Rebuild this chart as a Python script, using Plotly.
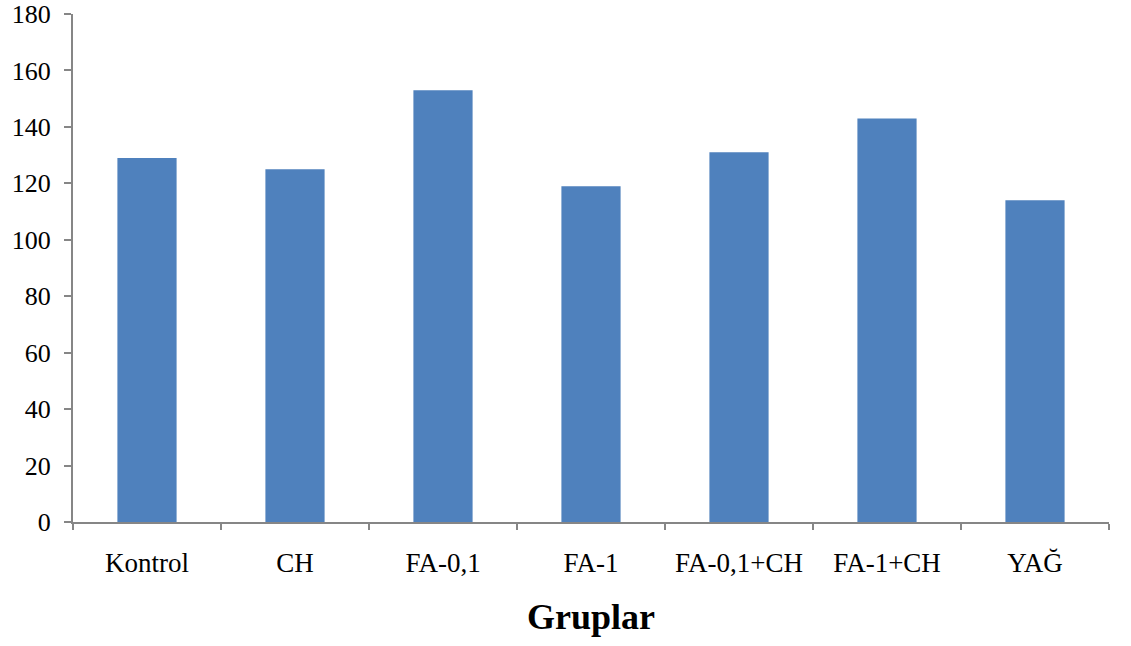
import plotly.graph_objects as go

groups = ["Kontrol", "CH", "FA-0,1", "FA-1", "FA-0,1+CH", "FA-1+CH", "YAĞ"]
values = [129, 125, 153, 119, 131, 143, 114]
y_ticks = [0, 20, 40, 60, 80, 100, 120, 140, 160, 180]

bar_color = "#4F81BD"
axis_color = "#868686"
serif = "Liberation Serif, Times New Roman, serif"

fig = go.Figure(
    go.Bar(
        x=groups,
        y=values,
        marker=dict(color=bar_color, line=dict(width=0)),
    )
)

fig.update_layout(
    width=1131,
    height=646,
    margin=dict(l=73, r=22, t=14, b=124, autoexpand=False),
    plot_bgcolor="white",
    paper_bgcolor="white",
    bargap=0.6,
    showlegend=False,
    font=dict(family=serif, color="black"),
)

fig.update_xaxes(
    title=dict(text="<b>Gruplar</b>", font=dict(size=36, family=serif), standoff=26),
    tickfont=dict(size=27, family=serif),
    showline=True,
    linecolor=axis_color,
    linewidth=2,
    ticks="outside",
    tickson="boundaries",
    ticklen=6,
    tickcolor=axis_color,
    tickwidth=2,
    showgrid=False,
    automargin=False,
    ticklabelstandoff=16,
)

fig.update_yaxes(
    range=[0, 180],
    tickvals=y_ticks,
    tickfont=dict(size=26, family=serif),
    showline=True,
    linecolor=axis_color,
    linewidth=2,
    ticks="outside",
    ticklen=7,
    tickcolor=axis_color,
    tickwidth=2,
    showgrid=False,
    zeroline=False,
    automargin=False,
    ticklabeloverflow="allow",
    ticklabelstandoff=8,
)

fig.write_html("out.html")
